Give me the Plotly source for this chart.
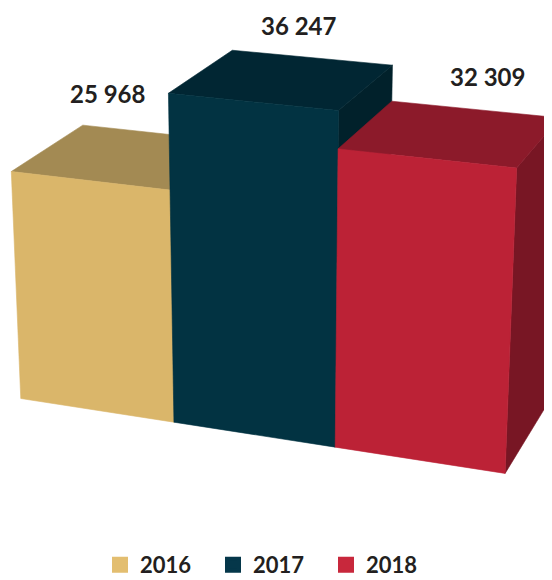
import numpy as np
import plotly.graph_objects as go

years = ["2016", "2017", "2018"]
values = [25968, 36247, 32309]
value_labels = ["25 968", "36 247", "32 309"]

PAGE_W, PAGE_H = 552, 580
PAGE_OFFSET = 8  # default body margin of the html page
W, H = PAGE_W - PAGE_OFFSET, PAGE_H - PAGE_OFFSET
front_colors = ["#DAB66A", "#023342", "#BC2236"]
top_colors = ["#A38A53", "#012633", "#8C1A2A"]
side_colors = ["#8A7446", "#01212B", "#781624"]
legend_colors = ["#E3BE70", "#05374A", "#C8283C"]
text_color = "#231F20"

# perspective camera (world: x = category slot, y = value in thousands, z = depth)
CAMERA = np.array([
    [148.836, -0.38061, 74.3876, 20.7754],
    [13.1632, -8.97617, -36.4978, 398.488],
    [-0.0249571, -0.0013778, 0.0657281, 1.0],
])
DEPTH = 1.0
label_offsets = [(18, -87), (47, -76), (61, -82)]


def proj(X, Y, Z):
    w = CAMERA @ np.array([X, Y, Z, 1.0])
    return w[0] / w[2], w[1] / w[2]


fig = go.Figure()
for i, (yr, val) in enumerate(zip(years, values)):
    y = val / 1000
    x0, x1 = i, i + 1
    faces = [
        ([(x1, 0, 0), (x1, 0, DEPTH), (x1, y, DEPTH), (x1, y, 0)], side_colors[i]),
        ([(x0, y, 0), (x1, y, 0), (x1, y, DEPTH), (x0, y, DEPTH)], top_colors[i]),
        ([(x0, 0, 0), (x1, 0, 0), (x1, y, 0), (x0, y, 0)], front_colors[i]),
    ]
    for corners, col in faces:
        uv = [proj(*c) for c in corners]
        us = [p[0] for p in uv] + [uv[0][0]]
        vs = [p[1] for p in uv] + [uv[0][1]]
        fig.add_trace(go.Scatter(x=us, y=vs, fill="toself", fillcolor=col, mode="lines",
                                 line=dict(color=col, width=0.6), hoverinfo="skip", showlegend=False))

for i, (val, lab) in enumerate(zip(values, value_labels)):
    u, v = proj(i + 0.5, val / 1000, 0)
    fig.add_annotation(x=u + label_offsets[i][0], y=v + label_offsets[i][1], text=lab, showarrow=False,
                       xref="x", yref="y", font=dict(family="Lato", size=24, color=text_color, weight="bold"))

for yr, col in zip(years, legend_colors):
    fig.add_trace(go.Bar(x=[None], y=[None], name=yr, marker=dict(color=col, line=dict(color=col, width=4))))

fig.update_layout(
    width=W, height=H, autosize=False, margin=dict(l=0, r=0, t=0, b=0, autoexpand=False),
    paper_bgcolor="white", plot_bgcolor="white",
    xaxis=dict(range=[PAGE_OFFSET, PAGE_W], visible=False, fixedrange=True),
    yaxis=dict(range=[PAGE_H, PAGE_OFFSET], visible=False, fixedrange=True),
    legend=dict(orientation="h", x=92 / W, y=-6 / H, xanchor="left", yanchor="bottom",
                font=dict(family="Lato", size=22, color=text_color, weight="bold"),
                entrywidth=68, entrywidthmode="pixels", bgcolor="rgba(0,0,0,0)"),
)
fig.write_html("out.html")
